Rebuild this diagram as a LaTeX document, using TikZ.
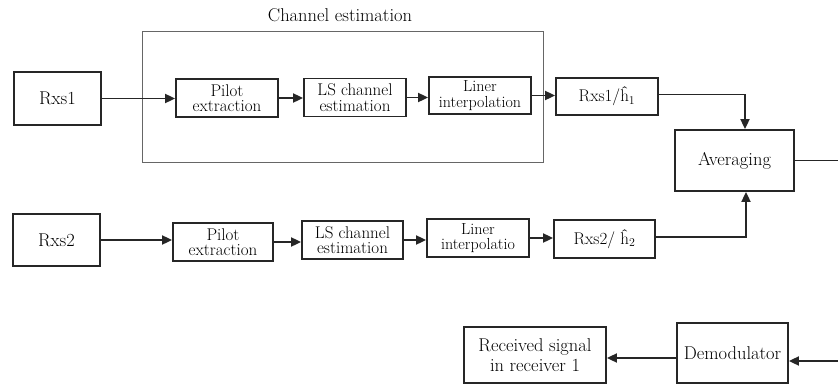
\documentclass[tikz,border=0pt]{standalone}
\usepackage{fontspec}
\usetikzlibrary{arrows.meta}
\begin{document}
\begin{tikzpicture}[x=1pt,y=-1pt,
  blk/.style={draw=black!85,line width=1.8pt,inner sep=0pt,align=center,font=\fontsize{18.5pt}{20pt}\selectfont},
  small/.style={font=\fontsize{17pt}{15.5pt}\selectfont},
  tiny/.style={font=\fontsize{16pt}{15.5pt}\selectfont},
  conn/.style={draw=black!85,line width=1.8pt,-{Triangle[length=10pt,width=9pt]}},
  plain/.style={draw=black!85,line width=1.8pt}]
\useasboundingbox (0,0) rectangle (838,386);
% channel estimation frame
\node[draw=black!60,line width=1pt,minimum width=401pt,minimum height=131pt,inner sep=0pt] (ce) at (342.5,96.5) {};
\node[font=\fontsize{18.5pt}{20pt}\selectfont,inner sep=0pt] (cel) at (340,15) {Channel estimation};
% branch 1
\node[blk,minimum width=87pt,minimum height=53pt] (rx1) at (57.5,98.5) {Rxs1};
\node[blk,small,minimum width=102pt,minimum height=38pt] (p1) at (227,98) {Pilot\\extraction};
\node[blk,small,minimum width=102pt,minimum height=38pt] (ls1) at (355,97.5) {LS channel\\estimation};
\node[blk,tiny,minimum width=102pt,minimum height=37pt] (li1) at (480,95.5) {Liner\\interpolation};
\node[blk,small,minimum width=102pt,minimum height=37pt] (r1h) at (607,96.5) {Rxs1/\^{h}\textsubscript{1}};
% branch 2
\node[blk,minimum width=87pt,minimum height=52pt] (rx2) at (56.5,240) {Rxs2};
\node[blk,small,minimum width=100pt,minimum height=38pt] (p2) at (223,242) {Pilot\\extraction};
\node[blk,small,minimum width=101pt,minimum height=38pt] (ls2) at (352.5,240) {LS channel\\estimation};
\node[blk,tiny,minimum width=102pt,minimum height=38pt] (li2) at (478,238) {Liner\\interpolatio};
\node[blk,small,minimum width=101pt,minimum height=38pt] (r2h) at (604.5,239) {Rxs2/ \^{h}\textsubscript{2}};
% combining
\node[blk,minimum width=119pt,minimum height=61pt] (avg) at (734.5,160.5) {Averaging};
\node[blk,minimum width=111pt,minimum height=60pt] (dem) at (732.5,353) {Demodulator};
\node[blk,minimum width=142pt,minimum height=56pt] (rec) at (535,355) {Received signal\\in receiver 1};
\coordinate (out) at (838,159);
\coordinate (din) at (838,361);
% connectors branch 1
\draw[conn] (rx1.east) -- (rx1.east -| p1.west);
\draw[conn] (p1.east) -- (p1.east -| ls1.west);
\draw[conn] (ls1.east) -- (ls1.east -| li1.west);
\draw[conn] (li1.east) -- (li1.east -| r1h.west);
\draw[conn] ([yshift=2pt]r1h.east) -| ([xshift=10.5pt]avg.north);
% connectors branch 2
\draw[conn] (rx2.east) -- (rx2.east -| p2.west);
\draw[conn] (p2.east) -- (p2.east -| ls2.west);
\draw[conn] (ls2.east) -- (ls2.east -| li2.west);
\draw[conn] (li2.east) -- (li2.east -| r2h.west);
\draw[conn] ([yshift=2pt]r2h.east) -| ([xshift=11.5pt]avg.south);
% output side
\draw[plain] (avg.east) -- (avg.east -| out);
\draw[conn] (din) -- (din -| dem.east);
\draw[conn] ([yshift=-5pt]dem.west) -- ([yshift=-5pt]dem.west -| rec.east);
\end{tikzpicture}
\end{document}
